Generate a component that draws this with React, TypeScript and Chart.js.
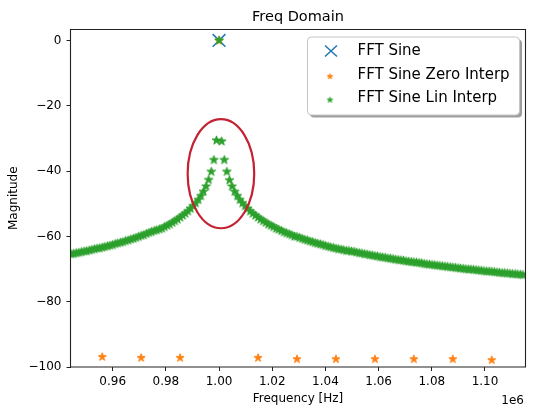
import React, { useEffect, useRef } from "react";
import { Chart, registerables } from "chart.js";

Chart.register(...registerables);

// ---------- text ----------
const TITLE = "Freq Domain";
const X_LABEL = "Frequency [Hz]";
const Y_LABEL = "Magnitude";
const X_OFFSET_TEXT = "1e6";
const LEGEND_LABELS = ["FFT Sine", "FFT Sine Zero Interp", "FFT Sine Lin Interp"];

// ---------- axes ----------
const X_MIN = 944130;
const X_MAX = 1115230;
const Y_MIN = -100;
const Y_MAX = 3.36;
const X_TICKS = [960000, 980000, 1000000, 1020000, 1040000, 1060000, 1080000, 1100000];
const Y_TICKS = [-100, -80, -60, -40, -20, 0];

// ---------- data ----------
const CENTER_HZ = 1000000;

// FFT Sine (only the peak is inside the view)
const SINE_HZ = [1000000];
const SINE_DB = [0];

// FFT Sine Zero Interp: original bins
const ZERO_STEP_HZ = 14648;
const ZERO_BINS = [-3, -2, -1, 0, 1, 2, 3, 4, 5, 6, 7];
const ZERO_DB = [-96.9, -97.2, -97.2, 0, -97.2, -97.6, -97.6, -97.6, -97.6, -97.6, -97.9];

// FFT Sine Lin Interp: fine bins, first bin index and values
const LIN_STEP_HZ = 976.6;
const LIN_FIRST_BIN = -57;
const LIN_DB = [
  -65.4, -65.3, -65.1, -65.0, -64.8, -64.6, -64.5, -64.3, -64.1, -63.9,
  -63.7, -63.6, -63.4, -63.2, -63.0, -62.8, -62.6, -62.3, -62.1, -61.9,
  -61.7, -61.4, -61.2, -60.9, -60.7, -60.4, -60.1, -59.8, -59.6, -59.2,
  -58.9, -58.6, -58.3, -58.1, -57.8, -57.6, -57.1, -56.7, -56.3, -55.8,
  -55.3, -54.8, -54.2, -53.6, -53.0, -52.3, -51.5, -50.7, -49.8, -48.8,
  -47.6, -46.3, -44.7, -42.7, -40.2, -36.6, -30.6,
  0,
  -30.9, -36.6, -40.2, -42.8, -44.7, -46.3, -47.6, -48.8, -49.8, -50.7,
  -51.5, -52.3, -53.0, -53.6, -54.2, -54.8, -55.3, -55.8, -56.3, -56.7,
  -57.1, -57.6, -57.9, -58.3, -58.7, -59.0, -59.3, -59.6, -60.0, -60.1,
  -60.4, -60.7, -61.0, -61.2, -61.5, -61.7, -62.0, -62.2, -62.4, -62.6,
  -62.9, -63.1, -63.3, -63.5, -63.7, -63.9, -64.0, -64.2, -64.4, -64.4,
  -64.6, -64.7, -64.9, -65.1, -65.2, -65.4, -65.5, -65.7, -65.8, -66.0,
  -66.1, -66.3, -66.4, -66.5, -66.7, -66.8, -66.9, -67.1, -67.2, -67.3,
  -67.4, -67.6, -67.7, -67.8, -67.9, -68.0, -68.1, -68.2, -68.4, -68.5,
  -68.6, -68.7, -68.8, -68.9, -69.0, -69.1, -69.2, -69.3, -69.4, -69.5,
  -69.6, -69.7, -69.8, -69.9, -70.0, -70.1, -70.1, -70.2, -70.3, -70.4,
  -70.5, -70.6, -70.7, -70.7, -70.8, -70.9, -71.0, -71.1, -71.2, -71.2,
  -71.3, -71.4, -71.5, -71.5, -71.6, -71.7, -71.8,
];

// annotation ellipse (data units)
const ELLIPSE_CX = 1000700;
const ELLIPSE_CY = -40.8;
const ELLIPSE_RX = 12520;
const ELLIPSE_RY = 16.7;

// ---------- style ----------
const BLUE = "#1f77b4";
const ORANGE = "#ff7f0e";
const GREEN = "#2ca02c";
const RED = "#c42232";
const FONT = '"DejaVu Sans", "Liberation Sans", sans-serif';

function makeStar(color: string, r: number): HTMLCanvasElement {
  const size = Math.ceil(2 * r + 3);
  const c = document.createElement("canvas");
  c.width = size;
  c.height = size;
  const ctx = c.getContext("2d")!;
  const cx = size / 2;
  const cy = size / 2;
  const inner = r * 0.382;
  ctx.beginPath();
  for (let i = 0; i < 10; i++) {
    const rad = i % 2 === 0 ? r : inner;
    const a = -Math.PI / 2 + (i * Math.PI) / 5;
    const x = cx + rad * Math.cos(a);
    const y = cy + rad * Math.sin(a);
    if (i === 0) ctx.moveTo(x, y);
    else ctx.lineTo(x, y);
  }
  ctx.closePath();
  ctx.fillStyle = color;
  ctx.fill();
  ctx.strokeStyle = color;
  ctx.lineWidth = 1;
  ctx.lineJoin = "miter";
  ctx.stroke();
  return c;
}

export default function App() {
  const ref = useRef<HTMLCanvasElement | null>(null);

  useEffect(() => {
    if (!ref.current) return;
    const orangeStar = makeStar(ORANGE, 4.2);
    const greenStar = makeStar(GREEN, 4.6);
    const orangeSmall = makeStar(ORANGE, 2.8);
    const greenSmall = makeStar(GREEN, 2.8);

    const sinePts = SINE_HZ.map((x, i) => ({ x, y: SINE_DB[i] }));
    const zeroPts = ZERO_BINS.map((b, i) => ({ x: CENTER_HZ + b * ZERO_STEP_HZ, y: ZERO_DB[i] }));
    const linPts = LIN_DB.map((y, i) => ({ x: CENTER_HZ + (LIN_FIRST_BIN + i) * LIN_STEP_HZ, y }));

    const overlay = {
      id: "overlay",
      afterDatasetsDraw(chart: any) {
        const { ctx, chartArea: a, scales } = chart;
        const xs = scales.x;
        const ys = scales.y;
        const cx = xs.getPixelForValue(ELLIPSE_CX);
        const cy = ys.getPixelForValue(ELLIPSE_CY);
        const rx = Math.abs(xs.getPixelForValue(ELLIPSE_CX + ELLIPSE_RX) - cx);
        const ry = Math.abs(ys.getPixelForValue(ELLIPSE_CY + ELLIPSE_RY) - cy);
        ctx.save();
        ctx.beginPath();
        ctx.ellipse(cx, cy, rx, ry, 0, 0, Math.PI * 2);
        ctx.strokeStyle = RED;
        ctx.lineWidth = 2.2;
        ctx.stroke();
        ctx.beginPath();
        ctx.rect(a.left, a.top, a.right - a.left, a.bottom - a.top);
        ctx.strokeStyle = "#222";
        ctx.lineWidth = 1.1;
        ctx.stroke();
        ctx.restore();
      },
      afterDraw(chart: any) {
        const { ctx, chartArea: a } = chart;
        ctx.save();
        ctx.fillStyle = "#000";
        ctx.font = `14.5px ${FONT}`;
        ctx.textAlign = "center";
        ctx.textBaseline = "alphabetic";
        ctx.fillText(TITLE, (a.left + a.right) / 2, 20.5);
        ctx.font = `12px ${FONT}`;
        ctx.textAlign = "right";
        ctx.fillText(X_OFFSET_TEXT, a.right - 1.5, 404);

        const lx = 307.5;
        const ly = 37;
        const lw = 212;
        const lh = 78;
        ctx.fillStyle = "rgba(0,0,0,0.38)";
        ctx.beginPath();
        ctx.roundRect(lx + 2.5, ly + 2.5, lw, lh, 4);
        ctx.fill();
        ctx.fillStyle = "#fff";
        ctx.beginPath();
        ctx.roundRect(lx, ly, lw, lh, 4);
        ctx.fill();
        ctx.strokeStyle = "#c4c4c4";
        ctx.lineWidth = 1;
        ctx.stroke();

        const rows = [51, 75, 98.5];
        const mx = 331;
        ctx.strokeStyle = BLUE;
        ctx.lineWidth = 1.5;
        ctx.beginPath();
        ctx.moveTo(mx - 6, rows[0] - 5.5);
        ctx.lineTo(mx + 6, rows[0] + 5.5);
        ctx.moveTo(mx + 6, rows[0] - 5.5);
        ctx.lineTo(mx - 6, rows[0] + 5.5);
        ctx.stroke();
        ctx.drawImage(orangeSmall, mx - 1 - orangeSmall.width / 2, rows[1] + 1.5 - orangeSmall.height / 2);
        ctx.drawImage(greenSmall, mx - 1 - greenSmall.width / 2, rows[2] + 1.5 - greenSmall.height / 2);

        ctx.fillStyle = "#000";
        ctx.font = `15px ${FONT}`;
        ctx.textAlign = "left";
        ctx.textBaseline = "middle";
        LEGEND_LABELS.forEach((t, i) => ctx.fillText(t, 357.5, rows[i]));
        ctx.restore();
      },
    };

    const chart = new Chart(ref.current, {
      type: "scatter",
      data: {
        datasets: [
          {
            label: LEGEND_LABELS[0],
            data: sinePts,
            pointStyle: "crossRot",
            pointRadius: 9,
            borderColor: BLUE,
            backgroundColor: BLUE,
            borderWidth: 1.5,
            order: 3,
          },
          {
            label: LEGEND_LABELS[1],
            data: zeroPts,
            pointStyle: orangeStar as any,
            pointRadius: 4,
            borderColor: ORANGE,
            backgroundColor: ORANGE,
            order: 2,
          },
          {
            label: LEGEND_LABELS[2],
            data: linPts,
            pointStyle: greenStar as any,
            pointRadius: 4,
            borderColor: GREEN,
            backgroundColor: GREEN,
            order: 1,
          },
        ],
      },
      options: {
        responsive: false,
        animation: false,
        events: [],
        layout: { padding: { left: 0, right: 14.5, top: 29.5, bottom: 0 } },
        plugins: {
          legend: { display: false },
          title: { display: false },
          tooltip: { enabled: false },
        },
        scales: {
          x: {
            type: "linear",
            min: X_MIN,
            max: X_MAX,
            afterBuildTicks: (s: any) => {
              s.ticks = X_TICKS.map((v) => ({ value: v }));
            },
            afterFit: (s: any) => {
              s.height = 45;
            },
            grid: {
              display: true,
              drawOnChartArea: false,
              drawTicks: true,
              tickLength: 4,
              color: "#222",
              lineWidth: 1,
            },
            border: { display: false },
            ticks: {
              color: "#000",
              font: { family: FONT, size: 12 },
              padding: 4,
              maxRotation: 0,
              autoSkip: false,
              callback: (v: any) => (Number(v) / 1e6).toFixed(2),
            },
            title: {
              display: true,
              text: X_LABEL,
              color: "#000",
              font: { family: FONT, size: 12 },
              padding: { top: 0, bottom: 5.5 },
            },
          },
          y: {
            type: "linear",
            min: Y_MIN,
            max: Y_MAX,
            afterBuildTicks: (s: any) => {
              s.ticks = Y_TICKS.map((v) => ({ value: v }));
            },
            afterFit: (s: any) => {
              s.width = 70.5;
            },
            grid: {
              display: true,
              drawOnChartArea: false,
              drawTicks: true,
              tickLength: 4,
              color: "#222",
              lineWidth: 1,
            },
            border: { display: false },
            ticks: {
              color: "#000",
              font: { family: FONT, size: 12 },
              padding: 5,
              autoSkip: false,
              callback: (v: any) => {
                const n = Number(v);
                return n < 0 ? "\u2212" + Math.abs(n) : String(n);
              },
            },
            title: {
              display: true,
              text: Y_LABEL,
              color: "#000",
              font: { family: FONT, size: 12 },
              padding: { top: 6.5, bottom: 0 },
            },
          },
        },
      },
      plugins: [overlay],
    } as any);

    return () => chart.destroy();
  }, []);

  return (
    <div style={{ position: "absolute", left: 0, top: 0, width: 540, height: 412, background: "#fff" }}>
      <canvas ref={ref} width={540} height={412} style={{ display: "block", width: 540, height: 412 }} />
    </div>
  );
}
